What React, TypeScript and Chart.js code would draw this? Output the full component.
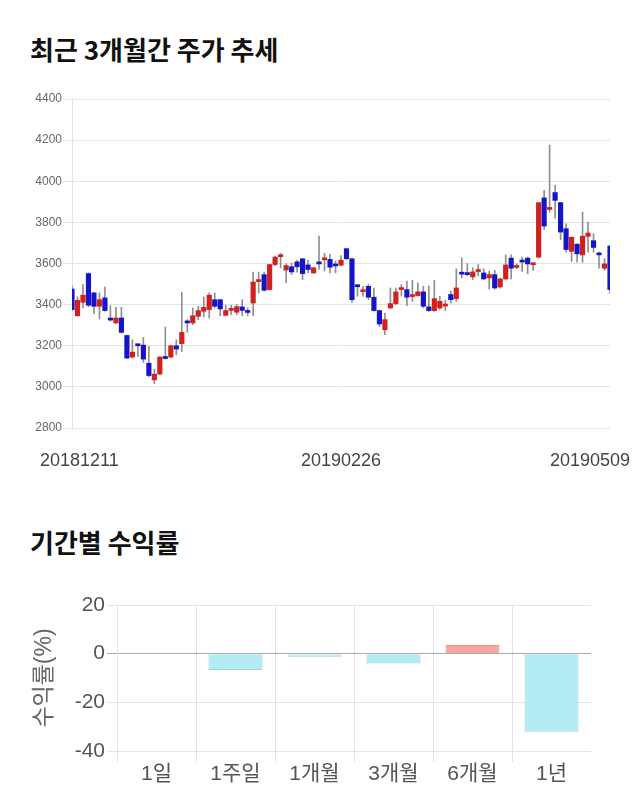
import React, { useEffect, useRef } from 'react';
import { Chart, registerables } from 'chart.js';

Chart.register(...registerables);

// ---------- Candlestick data (trading days) ----------
const dates = (
  '20181211 20181212 20181213 20181214 20181217 20181218 20181219 20181220 20181221 20181224 20181226 20181227 20181228 ' +
  '20190102 20190103 20190104 20190107 20190108 20190109 20190110 20190111 20190114 20190115 20190116 20190117 20190118 20190121 20190122 20190123 20190124 20190125 20190128 20190129 20190130 20190131 ' +
  '20190201 20190207 20190208 20190211 20190212 20190213 20190214 20190215 20190218 20190219 20190220 20190221 20190222 20190225 20190226 20190227 20190228 ' +
  '20190304 20190305 20190306 20190307 20190308 20190311 20190312 20190313 20190314 20190315 20190318 20190319 20190320 20190321 20190322 20190325 20190326 20190327 20190328 20190329 ' +
  '20190401 20190402 20190403 20190404 20190405 20190408 20190409 20190410 20190411 20190412 20190415 20190416 20190417 20190418 20190419 20190422 20190423 20190424 20190425 20190426 20190429 20190430 ' +
  '20190502 20190503 20190507 20190508 20190509'
).split(' ');

const opens = [
  3476, 3346, 3411, 3551, 3457, 3392, 3433, 3330, 3311, 3335,
  3250, 3145, 3205, 3203, 3115, 3034, 3062, 3142, 3145, 3200,
  3210, 3316, 3311, 3343, 3368, 3376, 3424, 3424, 3348, 3372,
  3363, 3389, 3366, 3408, 3512, 3546, 3473, 3595, 3633, 3568,
  3584, 3608, 3623, 3593, 3554, 3602, 3618, 3620, 3592, 3592,
  3672, 3623, 3491, 3463, 3489, 3436, 3371, 3278, 3384, 3405,
  3473, 3473, 3439, 3444, 3462, 3389, 3371, 3384, 3393, 3449,
  3429, 3552, 3554, 3535, 3561, 3554, 3530, 3546, 3486, 3525,
  3626, 3581, 3615, 3626, 3594, 3631, 3919, 3863, 3945, 3896,
  3769, 3659, 3694, 3642, 3732, 3711, 3648, 3577, 3685,
];
const highs = [
  3490, 3437, 3498, 3555, 3460, 3457, 3485, 3395, 3387, 3387,
  3252, 3229, 3205, 3241, 3197, 3086, 3148, 3291, 3203, 3229,
  3460, 3327, 3384, 3392, 3437, 3457, 3457, 3424, 3397, 3397,
  3400, 3424, 3384, 3558, 3558, 3558, 3597, 3636, 3649, 3600,
  3603, 3616, 3623, 3616, 3582, 3733, 3649, 3644, 3611, 3639,
  3675, 3625, 3498, 3489, 3498, 3481, 3373, 3359, 3481, 3481,
  3498, 3514, 3519, 3506, 3490, 3490, 3519, 3441, 3421, 3465,
  3574, 3628, 3600, 3579, 3595, 3574, 3563, 3567, 3528, 3642,
  3642, 3598, 3631, 3631, 3598, 3896, 3956, 4176, 3980, 3898,
  3793, 3728, 3696, 3850, 3802, 3745, 3655, 3623, 3687,
];
const lows = [
  3370, 3343, 3384, 3390, 3356, 3330, 3368, 3319, 3307, 3262,
  3138, 3140, 3148, 3119, 3050, 3015, 3058, 3135, 3142, 3156,
  3172, 3265, 3302, 3327, 3340, 3335, 3384, 3346, 3346, 3351,
  3350, 3346, 3346, 3346, 3457, 3465, 3470, 3590, 3579, 3506,
  3546, 3558, 3522, 3555, 3552, 3571, 3563, 3554, 3554, 3587,
  3620, 3411, 3441, 3441, 3424, 3368, 3294, 3254, 3380, 3400,
  3441, 3395, 3416, 3441, 3384, 3367, 3367, 3376, 3371, 3408,
  3416, 3530, 3541, 3522, 3541, 3522, 3476, 3476, 3480, 3522,
  3525, 3574, 3561, 3550, 3566, 3625, 3766, 3850, 3821, 3715,
  3655, 3610, 3606, 3606, 3655, 3655, 3577, 3566, 3452,
];
const closes = [
  3376, 3421, 3446, 3397, 3392, 3424, 3371, 3325, 3335, 3265,
  3140, 3169, 3200, 3135, 3055, 3062, 3145, 3138, 3200, 3184,
  3265, 3311, 3346, 3371, 3387, 3446, 3392, 3379, 3371, 3376,
  3390, 3372, 3362, 3510, 3516, 3470, 3595, 3631, 3640, 3590,
  3559, 3584, 3551, 3571, 3579, 3598, 3622, 3582, 3588, 3616,
  3623, 3424, 3487, 3467, 3436, 3371, 3306, 3327, 3405, 3462,
  3481, 3436, 3443, 3462, 3392, 3371, 3429, 3416, 3398, 3424,
  3481, 3548, 3546, 3559, 3565, 3525, 3546, 3481, 3525, 3593,
  3577, 3585, 3607, 3598, 3598, 3896, 3782, 3870, 3907, 3753,
  3668, 3728, 3647, 3733, 3748, 3678, 3642, 3598, 3473,
];
const dateTickLabels = ['20181211', '20190226', '20190509'];
const priceMin = 2800;
const priceMax = 4400;
const priceStep = 200;

// ---------- Period returns ----------
const periods = ['1일', '1주일', '1개월', '3개월', '6개월', '1년'];
const returns = [0, -6.7, -1.3, -4.0, 3.6, -32.1];
const returnMin = -40;
const returnMax = 20;
const returnStep = 20;

const UP = '#d41f1f';
const DOWN = '#1414c8';
const NUM_FONT = '"Liberation Sans", Arial, "Noto Sans CJK KR", sans-serif';

const dateLabelPlugin = {
  id: 'dateLabels',
  afterDraw(chart: any) {
    const ctx = chart.ctx;
    const xs = chart.scales.x;
    ctx.save();
    ctx.font = '18px ' + NUM_FONT;
    ctx.fillStyle = '#444';
    ctx.textAlign = 'center';
    ctx.textBaseline = 'middle';
    dateTickLabels.forEach((lab) => {
      const idx = dates.indexOf(lab);
      if (idx < 0) return;
      const w = ctx.measureText(lab).width;
      let x = xs.getPixelForValue(idx);
      x = Math.max(40 + w / 2, Math.min(chart.width - 10 - w / 2, x));
      ctx.fillText(lab, x, xs.top + 33);
    });
    ctx.restore();
  },
};

export default function App() {
  const topRef = useRef<HTMLCanvasElement>(null);
  const botRef = useRef<HTMLCanvasElement>(null);

  useEffect(() => {
    const bodies = dates.map((_, i) => [opens[i], closes[i]]);
    const wicks = dates.map((_, i) => [lows[i], highs[i]]);
    const bodyColors = dates.map((_, i) => (closes[i] >= opens[i] ? UP : DOWN));

    const top = new Chart(topRef.current as HTMLCanvasElement, {
      type: 'bar',
      data: {
        labels: dates,
        datasets: [
          {
            label: 'body',
            data: bodies as any,
            backgroundColor: bodyColors,
            barThickness: 4.5,
            minBarLength: 2,
            grouped: false,
            order: 0,
          } as any,
          {
            label: 'wick',
            data: wicks as any,
            backgroundColor: '#8f8f8f',
            barThickness: 1,
            grouped: false,
            order: 1,
          } as any,
        ],
      },
      options: {
        responsive: false,
        animation: false,
        devicePixelRatio: 1,
        layout: { padding: { top: 19, right: 30, left: 0, bottom: 0 } },
        plugins: { legend: { display: false }, tooltip: { enabled: false } },
        scales: {
          x: {
            offset: false,
            grid: { display: false },
            border: { display: false },
            ticks: { display: false },
            afterFit: (s: any) => {
              s.height = 52;
            },
          },
          y: {
            min: priceMin,
            max: priceMax,
            ticks: {
              stepSize: priceStep,
              font: { size: 12, family: NUM_FONT },
              color: '#666',
              padding: 1,
              callback: (v: any) => String(v),
            },
            grid: { color: '#e4e4e4', tickLength: 9 },
            border: { color: '#e4e4e4' },
            afterFit: (s: any) => {
              s.width = 72;
            },
          },
        },
      } as any,
      plugins: [dateLabelPlugin],
    });

    const bot = new Chart(botRef.current as HTMLCanvasElement, {
      type: 'bar',
      data: {
        labels: periods,
        datasets: [
          {
            label: '수익률',
            data: returns,
            backgroundColor: returns.map((v) => (v >= 0 ? '#ffa3a3' : '#b2ebf2')),
            borderColor: returns.map((v) => (v >= 0 ? '#f29090' : '#9ad3dc')),
            borderWidth: returns.map((v) => (v === 0 ? 0 : 1)),
            barPercentage: 0.9,
            categoryPercentage: 0.76,
          } as any,
        ],
      },
      options: {
        responsive: false,
        animation: false,
        devicePixelRatio: 1,
        layout: { padding: { top: 20, right: 49, left: 0, bottom: 0 } },
        plugins: { legend: { display: false }, tooltip: { enabled: false } },
        scales: {
          x: {
            grid: {
              offset: true,
              color: (c: any) =>
                c.index === undefined || c.index >= periods.length || c.type !== 'tick'
                  ? 'rgba(0,0,0,0)'
                  : '#e4e4e4',
              tickLength: 11,
            },
            border: { display: false },
            ticks: {
              font: { size: 21, family: NUM_FONT },
              color: '#555',
              padding: 0,
            },
            afterFit: (s: any) => {
              s.height = 49;
            },
          },
          y: {
            min: returnMin,
            max: returnMax,
            ticks: {
              stepSize: returnStep,
              font: { size: 21, family: NUM_FONT },
              color: '#555',
              padding: 2,
            },
            grid: {
              color: (c: any) => (c.tick && c.tick.value === 0 ? '#aaaaaa' : '#e4e4e4'),
              tickLength: 10,
            },
            border: { color: '#e4e4e4' },
            title: {
              display: true,
              text: '수익률(%)',
              font: { size: 23, family: NUM_FONT },
              color: '#666',
              padding: { top: 31, bottom: 0 },
            },
            afterFit: (s: any) => {
              s.width = 117;
            },
          },
        },
      } as any,
    });

    return () => {
      top.destroy();
      bot.destroy();
    };
  }, []);

  const titleStyle: React.CSSProperties = {
    position: 'absolute',
    left: 30,
    margin: 0,
    fontFamily: '"Noto Sans CJK KR", sans-serif',
    fontWeight: 700,
    fontSize: 26,
    lineHeight: '26px',
    color: '#111',
    whiteSpace: 'nowrap',
  };

  return (
    <div style={{ position: 'absolute', left: 0, top: 0, width: 640, height: 810, background: '#fff' }}>
      <div style={{ ...titleStyle, top: 36 }}>최근 3개월간 주가 추세</div>
      <canvas ref={topRef} width={640} height={400} style={{ position: 'absolute', left: 0, top: 80 }} />
      <div style={{ ...titleStyle, top: 529 }}>기간별 수익률</div>
      <canvas ref={botRef} width={640} height={215} style={{ position: 'absolute', left: 0, top: 585 }} />
    </div>
  );
}
